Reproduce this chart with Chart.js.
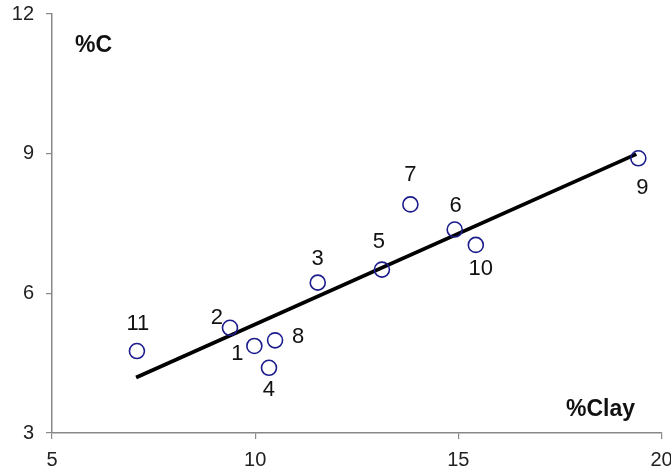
<!DOCTYPE html>
<html>
<head>
<meta charset="utf-8">
<script src="https://cdn.jsdelivr.net/npm/chart.js@4/dist/chart.umd.min.js"></script>
<style>
  html, body { margin: 0; padding: 0; background: #fff; }
  #wrap { width: 671px; height: 468px; }
</style>
</head>
<body>
<div id="wrap"><canvas id="chart"></canvas></div>
<script>
// sample numbers shown next to each point
const sampleIds = ["1", "2", "3", "4", "5", "6", "7", "8", "9", "10", "11"];
// %Clay and %C
const clayValues = [9.98, 9.38, 11.54, 10.34, 13.12, 14.91, 13.82, 10.49, 19.43, 15.43, 7.09];
const carbonValues = [4.87, 5.26, 6.23, 4.40, 6.51, 7.37, 7.91, 4.99, 8.90, 7.04, 4.76];

// ends of the fitted line
const fitClay = [7.07, 19.38];
const fitCarbon = [4.19, 8.99];

const xTicks = [5, 10, 15, 20];
const yTicks = [3, 6, 9, 12];

// where each number sits around its point (pixels)
const labelOffsets = {
  "1": [-17, 8], "2": [-13, -10], "3": [0, -24], "4": [0, 22],
  "5": [-3, -28], "6": [1, -24], "7": [0, -29], "8": [23, -3],
  "9": [4, 30], "10": [5, 24], "11": [1, -27]
};

const points = clayValues.map((x, i) => ({ x: x, y: carbonValues[i], id: sampleIds[i] }));
const fitLine = fitClay.map((x, i) => ({ x: x, y: fitCarbon[i] }));

// number labels and the two axis captions
const textPlugin = {
  id: "texts",
  afterDatasetsDraw(chart) {
    const ctx = chart.ctx;
    const meta = chart.getDatasetMeta(1);
    ctx.save();
    ctx.fillStyle = "#111";
    ctx.font = "22px 'Liberation Sans', Arial, sans-serif";
    ctx.textAlign = "center";
    ctx.textBaseline = "middle";
    meta.data.forEach((el, i) => {
      const off = labelOffsets[sampleIds[i]];
      ctx.fillText(sampleIds[i], el.x + off[0], el.y + off[1]);
    });
    ctx.font = "bold 23px 'Liberation Sans', Arial, sans-serif";
    ctx.textAlign = "left";
    ctx.textBaseline = "alphabetic";
    ctx.fillText("%C", 75, 52);
    ctx.fillText("%Clay", 566, 416);
    ctx.restore();
  }
};

const tickFont = { family: "'Liberation Sans', Arial, sans-serif", size: 20 };

new Chart(document.getElementById("chart"), {
  data: {
    datasets: [
      {
        type: "line",
        data: fitLine,
        borderColor: "#000",
        borderWidth: 3.8,
        pointRadius: 0,
        fill: false,
        order: 2
      },
      {
        type: "scatter",
        data: points,
        pointStyle: "circle",
        pointRadius: 7.5,
        pointBorderWidth: 1.6,
        pointBorderColor: "#1c1c8c",
        pointBackgroundColor: "rgba(255,255,255,0)",
        order: 1
      }
    ]
  },
  options: {
    responsive: true,
    maintainAspectRatio: false,
    animation: false,
    layout: { padding: { top: 14, right: 9.5, left: 0, bottom: 0 } },
    plugins: {
      legend: { display: false },
      tooltip: { enabled: false }
    },
    scales: {
      x: {
        type: "linear",
        min: 5,
        max: 20,
        afterBuildTicks: (s) => { s.ticks = xTicks.map(v => ({ value: v })); },
        afterFit: (s) => { s.height = 35; s.paddingLeft = 0; s.paddingRight = 0; },
        ticks: { font: tickFont, color: "#222", padding: 9, maxRotation: 0 },
        grid: { drawOnChartArea: false, drawTicks: true, tickLength: 6, color: "#888", lineWidth: 1.2 },
        border: { display: true, color: "#888", width: 1.5 }
      },
      y: {
        type: "linear",
        min: 3,
        max: 12,
        afterBuildTicks: (s) => { s.ticks = yTicks.map(v => ({ value: v })); },
        afterFit: (s) => { s.width = 52; s.paddingTop = 0; s.paddingBottom = 0; },
        ticks: { font: tickFont, color: "#222", padding: 12 },
        grid: { drawOnChartArea: false, drawTicks: true, tickLength: 6, color: "#888", lineWidth: 1.2 },
        border: { display: true, color: "#888", width: 1.5 }
      }
    }
  },
  plugins: [textPlugin]
});
</script>
</body>
</html>
